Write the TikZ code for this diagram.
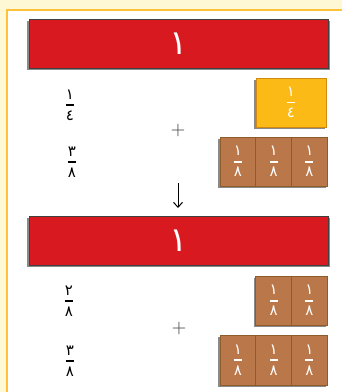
\documentclass[tikz,border=0pt]{standalone}
\usepackage{fontspec}
\usetikzlibrary{arrows.meta}
\newfontfamily\arabicfont[Script=Arabic]{DejaVu Sans}
\definecolor{bgyellow}{HTML}{FFF8D4}
\definecolor{frameorange}{HTML}{FDC23A}
\definecolor{barred}{HTML}{D91920}
\definecolor{qyellow}{HTML}{FBBA16}
\definecolor{qedge}{HTML}{D08A12}
\definecolor{ebrown}{HTML}{B9774A}
\definecolor{eedge}{HTML}{8E5B2A}
\definecolor{shadowgray}{HTML}{8A8A8A}
\newcommand\afr[2]{$\displaystyle{\hbox{\arabicfont #1}\above 1.6pt\hbox{\arabicfont #2}}$}
\tikzset{
  redbar/.style={fill=barred, draw=black!75, line width=0.6pt, minimum width=299pt, minimum height=49pt, inner sep=0pt, text=white, font=\fontsize{34}{34}\selectfont},
  qbox/.style={fill=qyellow, draw=qedge, line width=0.7pt, minimum width=70pt, minimum height=49pt, inner sep=0pt, text=white, font=\fontsize{15}{15}\selectfont},
  ebox/.style={fill=ebrown, draw=eedge, line width=0.8pt, minimum width=35.7pt, minimum height=49pt, inner sep=0pt, text=white, font=\fontsize{15}{15}\selectfont},
  fraclabel/.style={inner sep=0pt, text=black, font=\fontsize{15}{15}\selectfont},
  plussign/.style={inner sep=0pt, text=black!80, font=\fontsize{20}{20}\selectfont},
  shadowbox/.style={fill=shadowgray, draw=none}
}
\begin{document}
\begin{tikzpicture}[x=1pt, y=-1pt]
\useasboundingbox (0,0) rectangle (342,392);
% background and frame
\fill[bgyellow] (0,0) rectangle (342,392);
\fill[white] (7,10) rectangle (342,392);
\draw[frameorange, line width=2pt] (7,392) -- (7,10) -- (342,10);
% shadows
\fill[shadowgray] (27,21) rectangle (330,70);
\fill[shadowgray] (27,218) rectangle (330,267);
\fill[shadowgray] (254,80) rectangle (325,129);
\fill[shadowgray] (218,139) rectangle (326,188);
\fill[shadowgray] (254,278) rectangle (326,327);
\fill[shadowgray] (218,337) rectangle (326,387);
% top bar
\node[redbar] (bar1) at (178.5,43.5) {\arabicfont ١};
% row 1
\node[fraclabel] (f1) at (70,105) {\afr{١}{٤}};
\node[qbox] (q1) at (291,102.5) {\afr{١}{٤}};
\node[plussign] (p1) at (178,131) {+};
% row 2
\node[fraclabel] (f2) at (72,162) {\afr{٣}{٨}};
\node[ebox] (e1) at (238,161.5) {\afr{١}{٨}};
\node[ebox] (e2) at (273.7,161.5) {\afr{١}{٨}};
\node[ebox] (e3) at (309.4,161.5) {\afr{١}{٨}};
% arrow
\coordinate (astart) at (178,183);
\coordinate (aend) at (178,208);
\draw[line width=1pt, -{Straight Barb[length=5pt,width=9pt]}] (astart) -- (aend);
% second bar
\node[redbar] (bar2) at (178.5,240.5) {\arabicfont ١};
% row 3
\node[fraclabel] (f3) at (69,301) {\afr{٢}{٨}};
\node[ebox] (e4) at (273.7,300.5) {\afr{١}{٨}};
\node[ebox] (e5) at (309.4,300.5) {\afr{١}{٨}};
\node[plussign] (p2) at (179,329) {+};
% row 4
\node[fraclabel] (f4) at (70,361) {\afr{٣}{٨}};
\node[ebox, minimum height=50pt] (e6) at (238,360) {\afr{١}{٨}};
\node[ebox, minimum height=50pt] (e7) at (273.7,360) {\afr{١}{٨}};
\node[ebox, minimum height=50pt] (e8) at (309.4,360) {\afr{١}{٨}};
\end{tikzpicture}
\end{document}
